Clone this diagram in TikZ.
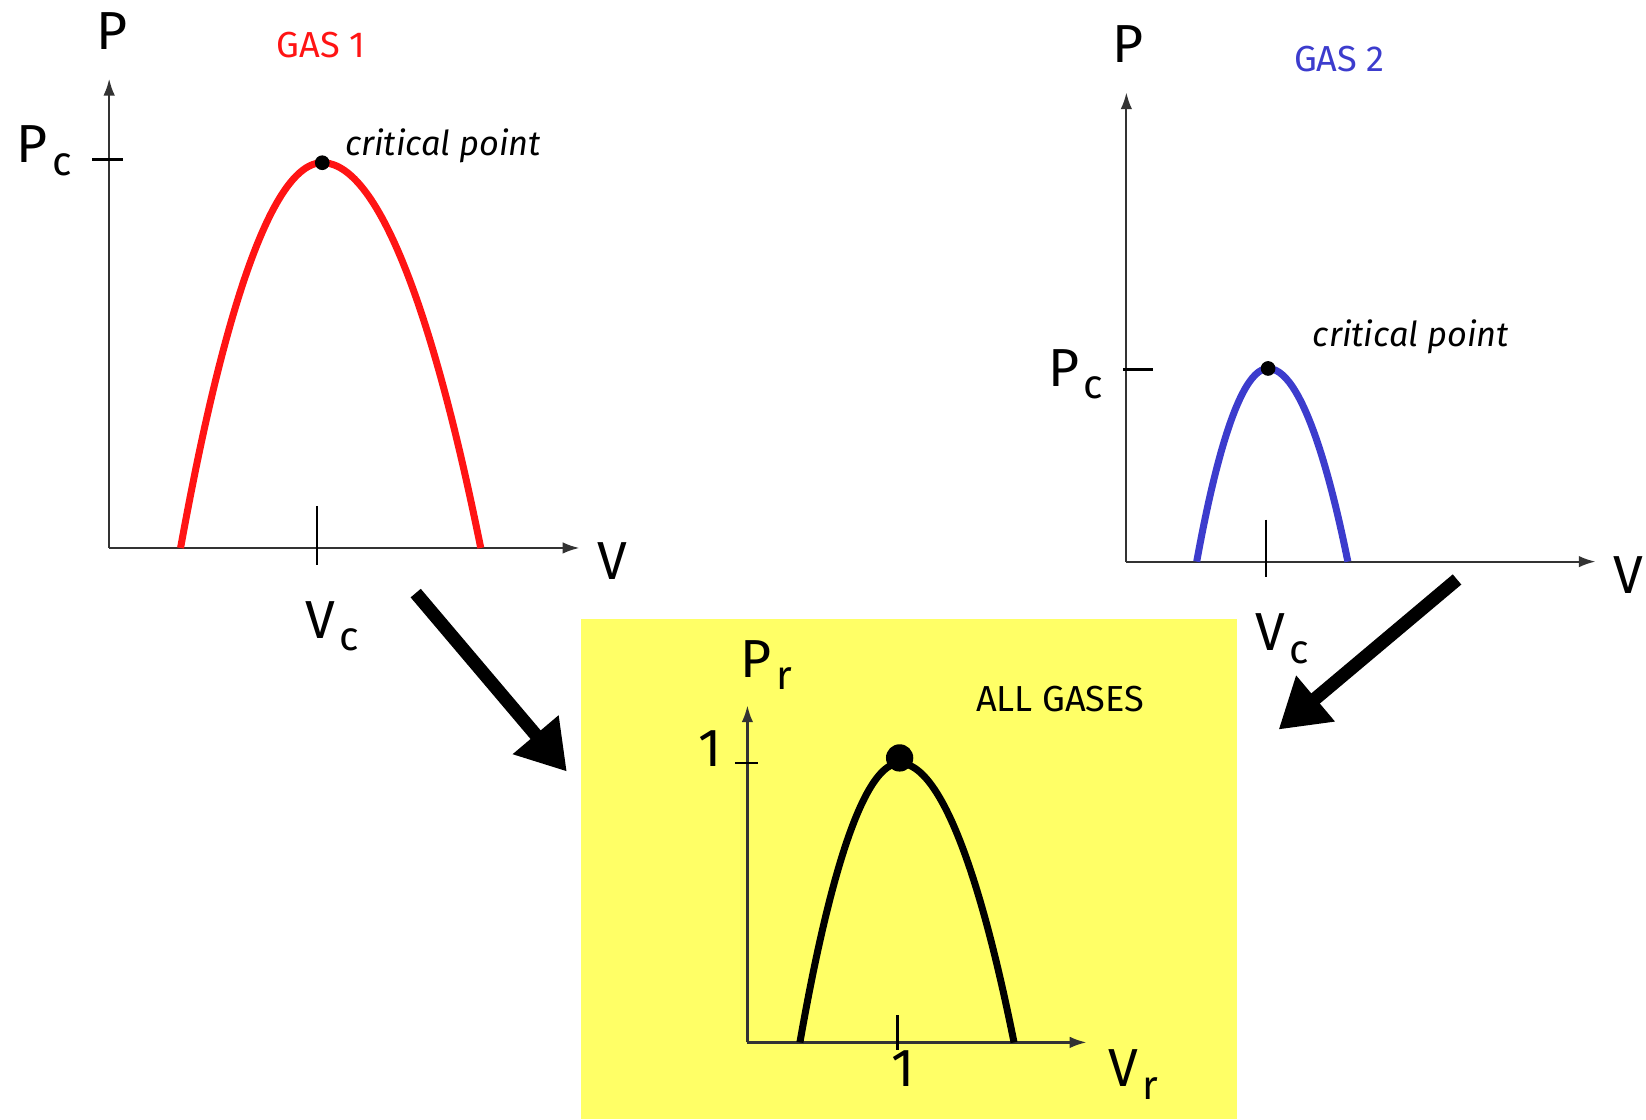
\documentclass[tikz,border=0pt]{standalone}
\usepackage{fontspec}
\setmainfont{Fira Sans}
\usetikzlibrary{positioning, arrows.meta}
\definecolor{gasred}{RGB}{255, 20, 20}
\definecolor{gasblue}{RGB}{60, 60, 205}
\definecolor{panelyellow}{RGB}{255, 255, 102}

\newcommand{\subc}[1]{\kern1.2pt\raisebox{-3.4pt}{\fontsize{11}{11}\selectfont #1}}

\begin{document}
\begin{tikzpicture}[x=0.01cm, y=-0.01cm,
                axis/.style={-{Latex[length=1.6mm, width=1.1mm]},
                    line width=0.6pt, black!80},
                tickline/.style={line width=0.6pt},
                curve/.style={line width=1.9pt},
                biglbl/.style={font=\fontsize{14.5}{14.5}\selectfont,
                    inner sep=0pt},
                gaslbl/.style={font=\fontsize{9.8}{9.8}\selectfont,
                    inner sep=0pt},
                critlbl/.style={font=\fontsize{9.3}{9.3}\selectfont\itshape,
                    inner sep=0pt, anchor=base west},
                critdot/.style={circle, fill=black, inner sep=0pt,
                    minimum size=1.4mm},
                bigarr/.style={-{Triangle[length=4.6mm, width=5.4mm]},
                    line width=3.6pt}
            ]

                \useasboundingbox (0, 0) rectangle (1568, 1066);

                % gas 1
                \coordinate (o1) at (104, 522);
                \coordinate (y1) at (104, 75);
                \coordinate (x1) at (552, 522);
                \draw[axis] (o1) -- (y1);
                \draw[axis] (o1) -- (x1);
                \node[biglbl, anchor=base] (p1) at (107, 47) {P};
                \node[gaslbl, anchor=base, text=gasred] (g1) at (306, 55) {GAS 1};
                \node[biglbl, anchor=base] (v1) at (583, 552) {V};
                \coordinate (pt1a) at (88, 152);
                \coordinate (pt1b) at (117, 152);
                \draw[tickline] (pt1a) -- (pt1b);
                \node[biglbl, anchor=base west] (pc1) at (15, 155) {P\subc{c}};
                \coordinate (vt1a) at (302, 482);
                \coordinate (vt1b) at (302, 538);
                \draw[tickline] (vt1a) -- (vt1b);
                \node[biglbl, anchor=base west] (vc1) at (290, 608) {V\subc{c}};
                \draw[curve, gasred] (172, 522) parabola bend (307, 155) (458, 522);
                \node[critdot] (cp1) at (307, 155) {};
                \node[critlbl] (cl1) at (328, 148) {critical point};

                % gas 2
                \coordinate (o2) at (1073, 535);
                \coordinate (y2) at (1073, 88);
                \coordinate (x2) at (1520, 535);
                \draw[axis] (o2) -- (y2);
                \draw[axis] (o2) -- (x2);
                \node[biglbl, anchor=base] (p2) at (1075, 60) {P};
                \node[gaslbl, anchor=base, text=gasblue] (g2) at (1276, 68) {GAS 2};
                \node[biglbl, anchor=base] (v2) at (1551, 565) {V};
                \coordinate (pt2a) at (1070, 352);
                \coordinate (pt2b) at (1098, 352);
                \draw[tickline] (pt2a) -- (pt2b);
                \node[biglbl, anchor=base west] (pc2) at (998, 368) {P\subc{c}};
                \coordinate (vt2a) at (1206, 495);
                \coordinate (vt2b) at (1206, 550);
                \draw[tickline] (vt2a) -- (vt2b);
                \node[biglbl, anchor=base west] (vc2) at (1195, 620) {V\subc{c}};
                \draw[curve, gasblue] (1140, 535) parabola bend (1208, 351) (1284, 535);
                \node[critdot] (cp2) at (1208, 351) {};
                \node[critlbl] (cl2) at (1250, 330) {critical point};

                % reduced plot
                \fill[panelyellow] (553, 590) rectangle (1178, 1066);
                \coordinate (o3) at (712, 993);
                \coordinate (y3) at (712, 672);
                \coordinate (x3) at (1035, 993);
                \draw[axis] (o3) -- (y3);
                \draw[axis] (o3) -- (x3);
                \node[biglbl, anchor=base west] (pr) at (705, 645) {P\subc{r}};
                \node[gaslbl, anchor=base] (g3) at (1010, 678) {ALL GASES};
                \coordinate (pt3a) at (700, 727);
                \coordinate (pt3b) at (722, 727);
                \draw[tickline] (pt3a) -- (pt3b);
                \node[biglbl, anchor=base] (one1) at (676, 730) {1};
                \coordinate (vt3a) at (855, 967);
                \coordinate (vt3b) at (855, 1000);
                \draw[tickline] (vt3a) -- (vt3b);
                \node[biglbl, anchor=base] (one2) at (860, 1035) {1};
                \node[biglbl, anchor=base west] (vr) at (1055, 1035) {V\subc{r}};
                \draw[curve, black] (762, 993) parabola bend (857, 727) (966, 993);
                \node[critdot, minimum size=2.6mm] (cp3) at (857, 722) {};

                % arrows into the reduced plot
                \coordinate (a1s) at (396, 565);
                \coordinate (a1e) at (540, 735);
                \coordinate (a2s) at (1388, 552);
                \coordinate (a2e) at (1218, 695);
                \draw[bigarr] (a1s) -- (a1e);
                \draw[bigarr] (a2s) -- (a2e);

            \end{tikzpicture}
\end{document}
